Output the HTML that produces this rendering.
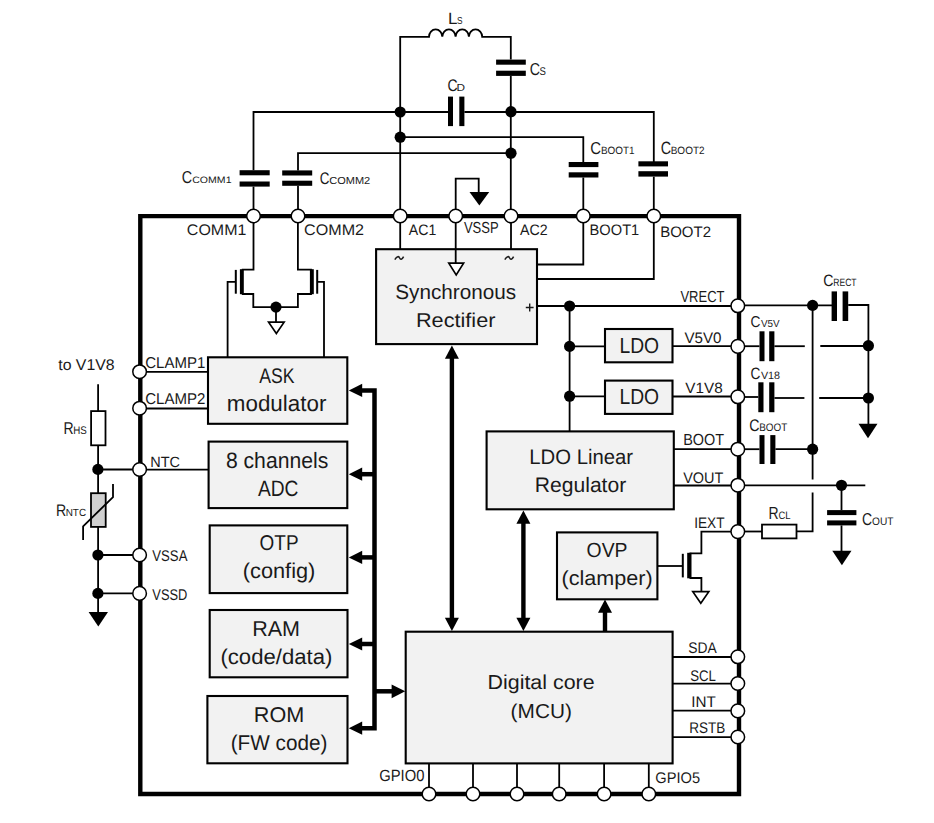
<!DOCTYPE html>
<html><head><meta charset="utf-8"><style>
html,body{margin:0;padding:0;background:#fff;}
body{width:934px;height:823px;overflow:hidden;}
svg{display:block;}
text{font-family:"Liberation Sans",sans-serif;text-rendering:geometricPrecision;}
</style></head><body>
<svg width="934" height="823" viewBox="0 0 934 823">
<rect width="934" height="823" fill="#fff"/>
<path d="M140.3,216.1 L739,216.1 L739,794 L140.3,794 Z" fill="none" stroke="#000" stroke-width="4.4"/>
<path d="M400.2,216 L400.2,36.8 L429,36.8 A6.65,7.4 0 0 1 442.30,36.8 A6.65,7.4 0 0 1 455.60,36.8 A6.65,7.4 0 0 1 468.90,36.8 A6.65,7.4 0 0 1 482.20,36.8 L510.8,36.8 L510.8,59.6" fill="none" stroke="#000" stroke-width="1.8"/>
<rect x="496.1" y="59.6" width="29.70" height="5.10" fill="#000"/>
<rect x="496.1" y="70.7" width="29.70" height="5.20" fill="#000"/>
<path d="M510.8,75.9 L510.8,216" fill="none" stroke="#000" stroke-width="1.8" stroke-linejoin="miter" stroke-linecap="butt"/>
<path d="M253.5,170.2 L253.5,112 L448,112" fill="none" stroke="#000" stroke-width="1.8" stroke-linejoin="miter" stroke-linecap="butt"/>
<rect x="448" y="96.6" width="5.00" height="29.50" fill="#000"/>
<rect x="459.3" y="96.6" width="5.10" height="29.50" fill="#000"/>
<path d="M464.4,112 L653.8,112 L653.8,161.9" fill="none" stroke="#000" stroke-width="1.8" stroke-linejoin="miter" stroke-linecap="butt"/>
<rect x="638.4" y="161.3" width="29.60" height="5.10" fill="#000"/>
<rect x="638.4" y="171.2" width="29.60" height="5.40" fill="#000"/>
<path d="M653.8,176.7 L653.8,216" fill="none" stroke="#000" stroke-width="1.8" stroke-linejoin="miter" stroke-linecap="butt"/>
<rect x="239.6" y="170.2" width="30.10" height="5.10" fill="#000"/>
<rect x="239.6" y="181.5" width="30.10" height="5.10" fill="#000"/>
<path d="M253.5,186.6 L253.5,216" fill="none" stroke="#000" stroke-width="1.8" stroke-linejoin="miter" stroke-linecap="butt"/>
<path d="M400.2,137.2 L583.3,137.2 L583.3,162.5" fill="none" stroke="#000" stroke-width="1.8" stroke-linejoin="miter" stroke-linecap="butt"/>
<rect x="568.7" y="162" width="29.70" height="5.10" fill="#000"/>
<rect x="568.7" y="172.3" width="29.70" height="5.20" fill="#000"/>
<path d="M583.3,177.5 L583.3,216" fill="none" stroke="#000" stroke-width="1.8" stroke-linejoin="miter" stroke-linecap="butt"/>
<path d="M511,153.2 L298,153.2 L298,170.4" fill="none" stroke="#000" stroke-width="1.8" stroke-linejoin="miter" stroke-linecap="butt"/>
<rect x="282.2" y="170.4" width="30.00" height="5.10" fill="#000"/>
<rect x="282.2" y="180.7" width="30.00" height="5.10" fill="#000"/>
<path d="M298,185.8 L298,216" fill="none" stroke="#000" stroke-width="1.8" stroke-linejoin="miter" stroke-linecap="butt"/>
<path d="M455.7,216 L455.7,178.7 L478.7,178.7 L478.7,193" fill="none" stroke="#000" stroke-width="1.8" stroke-linejoin="miter" stroke-linecap="butt"/>
<path d="M469.5,192 L489.2,192 L479.35,205.4 Z" fill="#000"/>
<path d="M253.5,216 L253.5,269.6 L241.8,269.6" fill="none" stroke="#000" stroke-width="1.8" stroke-linejoin="miter" stroke-linecap="butt"/>
<rect x="239.9" y="269.2" width="3.90" height="25.00" fill="#000"/>
<path d="M241.8,294 L253.3,294 L253.3,307.1 L297.9,307.1 L297.9,294 L311.9,294" fill="none" stroke="#000" stroke-width="1.8" stroke-linejoin="miter" stroke-linecap="butt"/>
<rect x="309.9" y="269.2" width="3.90" height="25.00" fill="#000"/>
<path d="M311.9,269.6 L297.9,269.6 L297.9,216" fill="none" stroke="#000" stroke-width="1.8" stroke-linejoin="miter" stroke-linecap="butt"/>
<rect x="234.8" y="269.9" width="2.00" height="23.80" fill="#000"/>
<rect x="316.2" y="269.9" width="2.00" height="23.80" fill="#000"/>
<path d="M235.8,281.8 L227.6,281.8 L227.6,357.3" fill="none" stroke="#000" stroke-width="1.8" stroke-linejoin="miter" stroke-linecap="butt"/>
<path d="M317.2,281.8 L324,281.8 L324,357.3" fill="none" stroke="#000" stroke-width="1.8" stroke-linejoin="miter" stroke-linecap="butt"/>
<path d="M276,307 L276,322" fill="none" stroke="#000" stroke-width="1.8" stroke-linejoin="miter" stroke-linecap="butt"/>
<path d="M268.6,322.2 L284.1,322.2 L276.35,333.4 Z" fill="#fff" stroke="#000" stroke-width="1.7" stroke-linejoin="miter"/>
<path d="M400.2,216 L400.2,249.2" fill="none" stroke="#000" stroke-width="1.8" stroke-linejoin="miter" stroke-linecap="butt"/>
<path d="M511,216 L511,249.2" fill="none" stroke="#000" stroke-width="1.8" stroke-linejoin="miter" stroke-linecap="butt"/>
<path d="M583.3,216 L583.3,264.5 L537,264.5" fill="none" stroke="#000" stroke-width="1.8" stroke-linejoin="miter" stroke-linecap="butt"/>
<path d="M653.8,216 L653.8,279 L537,279" fill="none" stroke="#000" stroke-width="1.8" stroke-linejoin="miter" stroke-linecap="butt"/>
<rect x="376.1" y="249.2" width="160.90" height="94.90" fill="#f2f2f2" stroke="#000" stroke-width="2.1"/>
<path d="M455.7,216 L455.7,263" fill="none" stroke="#000" stroke-width="1.8" stroke-linejoin="miter" stroke-linecap="butt"/>
<path d="M448.8,263.2 L463.6,263.2 L456.20000000000005,275 Z" fill="#fff" stroke="#000" stroke-width="1.7" stroke-linejoin="miter"/>
<path d="M537,306 L739,306" fill="none" stroke="#000" stroke-width="1.8" stroke-linejoin="miter" stroke-linecap="butt"/>
<path d="M569.6,306 L569.6,431.4" fill="none" stroke="#000" stroke-width="1.8" stroke-linejoin="miter" stroke-linecap="butt"/>
<path d="M569.6,346.4 L605,346.4" fill="none" stroke="#000" stroke-width="1.8" stroke-linejoin="miter" stroke-linecap="butt"/>
<path d="M672.5,346.2 L739,346.2" fill="none" stroke="#000" stroke-width="1.8" stroke-linejoin="miter" stroke-linecap="butt"/>
<path d="M569.6,396.3 L605,396.3" fill="none" stroke="#000" stroke-width="1.8" stroke-linejoin="miter" stroke-linecap="butt"/>
<path d="M672.5,396.5 L739,396.5" fill="none" stroke="#000" stroke-width="1.8" stroke-linejoin="miter" stroke-linecap="butt"/>
<rect x="605" y="329" width="67.50" height="33.30" fill="#f2f2f2" stroke="#000" stroke-width="2.1"/>
<rect x="605" y="380.6" width="67.50" height="33.30" fill="#f2f2f2" stroke="#000" stroke-width="2.1"/>
<rect x="486.6" y="431.4" width="187.20" height="77.90" fill="#f2f2f2" stroke="#000" stroke-width="2.1"/>
<path d="M673.8,449.2 L739,449.2" fill="none" stroke="#000" stroke-width="1.8" stroke-linejoin="miter" stroke-linecap="butt"/>
<path d="M673.8,485.5 L739,485.5" fill="none" stroke="#000" stroke-width="1.8" stroke-linejoin="miter" stroke-linecap="butt"/>
<rect x="557" y="532.4" width="100.40" height="66.90" fill="#f2f2f2" stroke="#000" stroke-width="2.1"/>
<path d="M657.4,566 L682,566" fill="none" stroke="#000" stroke-width="1.8" stroke-linejoin="miter" stroke-linecap="butt"/>
<rect x="681.8" y="553.8" width="2.00" height="23.60" fill="#000"/>
<rect x="687.2" y="552.8" width="4.30" height="25.50" fill="#000"/>
<path d="M689.5,553.4 L701.4,553.4 L701.4,531.7 L739,531.7" fill="none" stroke="#000" stroke-width="1.8" stroke-linejoin="miter" stroke-linecap="butt"/>
<path d="M689.5,578 L701.4,578 L701.4,591.5" fill="none" stroke="#000" stroke-width="1.8" stroke-linejoin="miter" stroke-linecap="butt"/>
<path d="M692.8,591.7 L708.8,591.7 L700.8,603.3 Z" fill="#fff" stroke="#000" stroke-width="1.7" stroke-linejoin="miter"/>
<rect x="208" y="357.3" width="139.30" height="66.50" fill="#f2f2f2" stroke="#000" stroke-width="2.1"/>
<rect x="208.6" y="441.6" width="138.70" height="66.50" fill="#f2f2f2" stroke="#000" stroke-width="2.1"/>
<rect x="209.7" y="525.4" width="137.60" height="67.70" fill="#f2f2f2" stroke="#000" stroke-width="2.1"/>
<rect x="209.7" y="610" width="137.80" height="67.30" fill="#f2f2f2" stroke="#000" stroke-width="2.1"/>
<rect x="207.4" y="696" width="140.10" height="67.30" fill="#f2f2f2" stroke="#000" stroke-width="2.1"/>
<path d="M140,371.8 L208,371.8" fill="none" stroke="#000" stroke-width="1.8" stroke-linejoin="miter" stroke-linecap="butt"/>
<path d="M140,408.5 L208,408.5" fill="none" stroke="#000" stroke-width="1.8" stroke-linejoin="miter" stroke-linecap="butt"/>
<path d="M140,469.7 L208.6,469.7" fill="none" stroke="#000" stroke-width="1.8" stroke-linejoin="miter" stroke-linecap="butt"/>
<path d="M361.6,390.4 L374.5,390.4 L374.5,728.2 L361.6,728.2" fill="none" stroke="#000" stroke-width="4.5"/>
<path d="M361.6,474.2 L374.5,474.2" fill="none" stroke="#000" stroke-width="4.5" stroke-linejoin="miter" stroke-linecap="butt"/>
<path d="M361.6,557.4 L374.5,557.4" fill="none" stroke="#000" stroke-width="4.5" stroke-linejoin="miter" stroke-linecap="butt"/>
<path d="M361.6,644 L374.5,644" fill="none" stroke="#000" stroke-width="4.5" stroke-linejoin="miter" stroke-linecap="butt"/>
<path d="M348.8,390.4 L362.2,383.79999999999995 L362.2,397.0 Z" fill="#000"/>
<path d="M348.8,474.2 L362.2,467.59999999999997 L362.2,480.8 Z" fill="#000"/>
<path d="M348.8,557.4 L362.2,550.8 L362.2,564.0 Z" fill="#000"/>
<path d="M348.8,644 L362.2,637.4 L362.2,650.6 Z" fill="#000"/>
<path d="M348.8,728.2 L362.2,721.6 L362.2,734.8000000000001 Z" fill="#000"/>
<path d="M374.5,691.3 L392,691.3" fill="none" stroke="#000" stroke-width="4.5" stroke-linejoin="miter" stroke-linecap="butt"/>
<path d="M405.2,691.3 L391.6,684.4 L391.6,698.2 Z" fill="#000"/>
<rect x="405.7" y="631.7" width="266.90" height="131.70" fill="#f2f2f2" stroke="#000" stroke-width="2.1"/>
<path d="M672.6,657 L739,657" fill="none" stroke="#000" stroke-width="1.8" stroke-linejoin="miter" stroke-linecap="butt"/>
<path d="M672.6,683.6 L739,683.6" fill="none" stroke="#000" stroke-width="1.8" stroke-linejoin="miter" stroke-linecap="butt"/>
<path d="M672.6,710.7 L739,710.7" fill="none" stroke="#000" stroke-width="1.8" stroke-linejoin="miter" stroke-linecap="butt"/>
<path d="M672.6,737.1 L739,737.1" fill="none" stroke="#000" stroke-width="1.8" stroke-linejoin="miter" stroke-linecap="butt"/>
<path d="M429,763 L429,794" fill="none" stroke="#000" stroke-width="1.8" stroke-linejoin="miter" stroke-linecap="butt"/>
<path d="M473,763 L473,794" fill="none" stroke="#000" stroke-width="1.8" stroke-linejoin="miter" stroke-linecap="butt"/>
<path d="M517,763 L517,794" fill="none" stroke="#000" stroke-width="1.8" stroke-linejoin="miter" stroke-linecap="butt"/>
<path d="M559.2,763 L559.2,794" fill="none" stroke="#000" stroke-width="1.8" stroke-linejoin="miter" stroke-linecap="butt"/>
<path d="M604.1,763 L604.1,794" fill="none" stroke="#000" stroke-width="1.8" stroke-linejoin="miter" stroke-linecap="butt"/>
<path d="M648.8,763 L648.8,794" fill="none" stroke="#000" stroke-width="1.8" stroke-linejoin="miter" stroke-linecap="butt"/>
<path d="M451.9,358 L451.9,619" fill="none" stroke="#000" stroke-width="4.4" stroke-linejoin="miter" stroke-linecap="butt"/>
<path d="M451.9,345.5 L444.9,358.7 L458.9,358.7 Z" fill="#000"/>
<path d="M451.9,630.9 L444.9,617.6999999999999 L458.9,617.6999999999999 Z" fill="#000"/>
<path d="M523.4,523 L523.4,619" fill="none" stroke="#000" stroke-width="4.4" stroke-linejoin="miter" stroke-linecap="butt"/>
<path d="M523.4,510.6 L516.4,523.8000000000001 L530.4,523.8000000000001 Z" fill="#000"/>
<path d="M523.4,630.9 L516.4,617.6999999999999 L530.4,617.6999999999999 Z" fill="#000"/>
<path d="M605,612 L605,631.7" fill="none" stroke="#000" stroke-width="4.4" stroke-linejoin="miter" stroke-linecap="butt"/>
<path d="M605,599.5 L598,612.7 L612,612.7 Z" fill="#000"/>
<path d="M739,305.4 L832,305.4" fill="none" stroke="#000" stroke-width="1.8" stroke-linejoin="miter" stroke-linecap="butt"/>
<rect x="831.6" y="291.4" width="5.40" height="29.60" fill="#000"/>
<rect x="842.6" y="291.4" width="5.60" height="29.60" fill="#000"/>
<path d="M848.2,305 L868.4,305 L868.4,424.5" fill="none" stroke="#000" stroke-width="1.8" stroke-linejoin="miter" stroke-linecap="butt"/>
<path d="M812.6,305.4 L812.6,479.5" fill="none" stroke="#000" stroke-width="1.8" stroke-linejoin="miter" stroke-linecap="butt"/>
<path d="M812.6,492.5 L812.6,531.3 L796.5,531.3" fill="none" stroke="#000" stroke-width="1.8" stroke-linejoin="miter" stroke-linecap="butt"/>
<path d="M739,346.2 L759.5,346.2" fill="none" stroke="#000" stroke-width="1.8" stroke-linejoin="miter" stroke-linecap="butt"/>
<rect x="759.5" y="331.3" width="5.00" height="29.90" fill="#000"/>
<rect x="769.2" y="331.3" width="5.20" height="29.90" fill="#000"/>
<path d="M774.4,346.2 L804.8,346.2" fill="none" stroke="#000" stroke-width="1.8" stroke-linejoin="miter" stroke-linecap="butt"/>
<path d="M820.3,346 L868.4,346" fill="none" stroke="#000" stroke-width="1.8" stroke-linejoin="miter" stroke-linecap="butt"/>
<path d="M739,397 L758.3,397" fill="none" stroke="#000" stroke-width="1.8" stroke-linejoin="miter" stroke-linecap="butt"/>
<rect x="758.3" y="382.3" width="5.20" height="29.90" fill="#000"/>
<rect x="769.2" y="382.3" width="5.20" height="29.90" fill="#000"/>
<path d="M774.4,398 L804.4,398" fill="none" stroke="#000" stroke-width="1.8" stroke-linejoin="miter" stroke-linecap="butt"/>
<path d="M819.2,398 L868.4,398" fill="none" stroke="#000" stroke-width="1.8" stroke-linejoin="miter" stroke-linecap="butt"/>
<path d="M858.5,423.8 L877.5,423.8 L868.0,438.2 Z" fill="#000"/>
<path d="M739,449.2 L759.5,449.2" fill="none" stroke="#000" stroke-width="1.8" stroke-linejoin="miter" stroke-linecap="butt"/>
<rect x="759.5" y="435.1" width="5.00" height="28.90" fill="#000"/>
<rect x="770.3" y="435.1" width="5.10" height="28.90" fill="#000"/>
<path d="M775.4,449.2 L812.6,449.2" fill="none" stroke="#000" stroke-width="1.8" stroke-linejoin="miter" stroke-linecap="butt"/>
<path d="M739,485.4 L865.3,485.4" fill="none" stroke="#000" stroke-width="1.8" stroke-linejoin="miter" stroke-linecap="butt"/>
<path d="M841.5,485 L841.5,510.1" fill="none" stroke="#000" stroke-width="1.8" stroke-linejoin="miter" stroke-linecap="butt"/>
<rect x="827.1" y="510.1" width="29.30" height="5.00" fill="#000"/>
<rect x="827.1" y="520.4" width="29.30" height="5.00" fill="#000"/>
<path d="M841.5,525.4 L841.5,551.5" fill="none" stroke="#000" stroke-width="1.8" stroke-linejoin="miter" stroke-linecap="butt"/>
<path d="M832.3,550.8 L851.5,550.8 L841.9,565.3 Z" fill="#000"/>
<path d="M739,531.5 L762,531.5" fill="none" stroke="#000" stroke-width="1.8" stroke-linejoin="miter" stroke-linecap="butt"/>
<rect x="762" y="524.6" width="34.50" height="13.80" fill="#fff" stroke="#000" stroke-width="1.8"/>
<path d="M98.1,384.3 L98.1,411.1" fill="none" stroke="#000" stroke-width="1.8" stroke-linejoin="miter" stroke-linecap="butt"/>
<rect x="91.1" y="411.1" width="14.40" height="34.20" fill="#fff" stroke="#000" stroke-width="1.8"/>
<path d="M98.1,445.3 L98.1,493.2" fill="none" stroke="#000" stroke-width="1.8" stroke-linejoin="miter" stroke-linecap="butt"/>
<rect x="91" y="493.2" width="14.70" height="33.70" fill="#d0d0d0" stroke="#000" stroke-width="1.8"/>
<path d="M98.1,526.9 L98.1,612.5" fill="none" stroke="#000" stroke-width="1.8" stroke-linejoin="miter" stroke-linecap="butt"/>
<path d="M88.6,611.9 L108,611.9 L98.3,626.5 Z" fill="#000"/>
<path d="M83.1,540 L83.1,526.3 L113,497.1 L113,483.9" fill="none" stroke="#000" stroke-width="1.8" stroke-linejoin="miter" stroke-linecap="butt"/>
<path d="M97.9,469.5 L140,469.5" fill="none" stroke="#000" stroke-width="1.8" stroke-linejoin="miter" stroke-linecap="butt"/>
<path d="M97.9,555 L140,555" fill="none" stroke="#000" stroke-width="1.8" stroke-linejoin="miter" stroke-linecap="butt"/>
<path d="M97.9,593.4 L140,593.4" fill="none" stroke="#000" stroke-width="1.8" stroke-linejoin="miter" stroke-linecap="butt"/>
<circle cx="253.5" cy="216" r="6.8" fill="#fff" stroke="#000" stroke-width="1.5"/>
<circle cx="298" cy="216" r="6.8" fill="#fff" stroke="#000" stroke-width="1.5"/>
<circle cx="400.2" cy="216" r="6.8" fill="#fff" stroke="#000" stroke-width="1.5"/>
<circle cx="455.7" cy="216" r="6.8" fill="#fff" stroke="#000" stroke-width="1.5"/>
<circle cx="511" cy="216" r="6.8" fill="#fff" stroke="#000" stroke-width="1.5"/>
<circle cx="583.3" cy="216" r="6.8" fill="#fff" stroke="#000" stroke-width="1.5"/>
<circle cx="653.8" cy="216" r="6.8" fill="#fff" stroke="#000" stroke-width="1.5"/>
<circle cx="139.6" cy="371.7" r="6.8" fill="#fff" stroke="#000" stroke-width="1.5"/>
<circle cx="139.6" cy="408.2" r="6.8" fill="#fff" stroke="#000" stroke-width="1.5"/>
<circle cx="139.6" cy="469.5" r="6.8" fill="#fff" stroke="#000" stroke-width="1.5"/>
<circle cx="139.6" cy="555" r="6.8" fill="#fff" stroke="#000" stroke-width="1.5"/>
<circle cx="139.6" cy="593.4" r="6.8" fill="#fff" stroke="#000" stroke-width="1.5"/>
<circle cx="737.8" cy="305.8" r="6.8" fill="#fff" stroke="#000" stroke-width="1.5"/>
<circle cx="737.8" cy="346.4" r="6.8" fill="#fff" stroke="#000" stroke-width="1.5"/>
<circle cx="737.8" cy="396.8" r="6.8" fill="#fff" stroke="#000" stroke-width="1.5"/>
<circle cx="737.8" cy="449.2" r="6.8" fill="#fff" stroke="#000" stroke-width="1.5"/>
<circle cx="737.8" cy="485.2" r="6.8" fill="#fff" stroke="#000" stroke-width="1.5"/>
<circle cx="737.8" cy="531.6" r="6.8" fill="#fff" stroke="#000" stroke-width="1.5"/>
<circle cx="737.8" cy="656.8" r="6.8" fill="#fff" stroke="#000" stroke-width="1.5"/>
<circle cx="737.8" cy="683.5" r="6.8" fill="#fff" stroke="#000" stroke-width="1.5"/>
<circle cx="737.8" cy="710.9" r="6.8" fill="#fff" stroke="#000" stroke-width="1.5"/>
<circle cx="737.8" cy="737.0" r="6.8" fill="#fff" stroke="#000" stroke-width="1.5"/>
<circle cx="429" cy="794" r="6.8" fill="#fff" stroke="#000" stroke-width="1.5"/>
<circle cx="473" cy="794" r="6.8" fill="#fff" stroke="#000" stroke-width="1.5"/>
<circle cx="517" cy="794" r="6.8" fill="#fff" stroke="#000" stroke-width="1.5"/>
<circle cx="559.2" cy="794" r="6.8" fill="#fff" stroke="#000" stroke-width="1.5"/>
<circle cx="604.1" cy="794" r="6.8" fill="#fff" stroke="#000" stroke-width="1.5"/>
<circle cx="648.8" cy="794" r="6.8" fill="#fff" stroke="#000" stroke-width="1.5"/>
<circle cx="400.2" cy="112" r="5.6" fill="#000"/>
<circle cx="511" cy="111.7" r="5.6" fill="#000"/>
<circle cx="400.2" cy="137.2" r="5.6" fill="#000"/>
<circle cx="511" cy="153.2" r="5.6" fill="#000"/>
<circle cx="276" cy="307.1" r="5.6" fill="#000"/>
<circle cx="569.6" cy="306" r="5.6" fill="#000"/>
<circle cx="569.6" cy="346.4" r="5.6" fill="#000"/>
<circle cx="569.6" cy="396.2" r="5.6" fill="#000"/>
<circle cx="812.6" cy="305.4" r="5.6" fill="#000"/>
<circle cx="868.4" cy="345.7" r="5.6" fill="#000"/>
<circle cx="868.4" cy="398" r="5.6" fill="#000"/>
<circle cx="812.6" cy="449.2" r="5.6" fill="#000"/>
<circle cx="841.5" cy="485.3" r="5.6" fill="#000"/>
<circle cx="97.9" cy="469.4" r="5.6" fill="#000"/>
<circle cx="97.9" cy="555" r="5.6" fill="#000"/>
<circle cx="97.9" cy="593.4" r="5.6" fill="#000"/>
<text x="186.89" y="234.50" font-size="15.41" textLength="59.49" lengthAdjust="spacingAndGlyphs" fill="#1a1a1a">COMM1</text>
<text x="304.08" y="235.00" font-size="15.41" textLength="59.93" lengthAdjust="spacingAndGlyphs" fill="#1a1a1a">COMM2</text>
<text x="408.87" y="234.50" font-size="15.12" textLength="27.42" lengthAdjust="spacingAndGlyphs" fill="#1a1a1a">AC1</text>
<text x="463.94" y="233.20" font-size="15.99" textLength="34.74" lengthAdjust="spacingAndGlyphs" fill="#1a1a1a">VSSP</text>
<text x="519.97" y="235.20" font-size="15.12" textLength="27.64" lengthAdjust="spacingAndGlyphs" fill="#1a1a1a">AC2</text>
<text x="589.60" y="235.20" font-size="15.12" textLength="49.62" lengthAdjust="spacingAndGlyphs" fill="#1a1a1a">BOOT1</text>
<text x="660.17" y="237.40" font-size="15.12" textLength="50.89" lengthAdjust="spacingAndGlyphs" fill="#1a1a1a">BOOT2</text>
<text x="145.24" y="367.50" font-size="15.70" textLength="60.10" lengthAdjust="spacingAndGlyphs" fill="#1a1a1a">CLAMP1</text>
<text x="145.24" y="404.20" font-size="15.70" textLength="60.12" lengthAdjust="spacingAndGlyphs" fill="#1a1a1a">CLAMP2</text>
<text x="150.31" y="467.00" font-size="14.83" textLength="29.74" lengthAdjust="spacingAndGlyphs" fill="#1a1a1a">NTC</text>
<text x="152.34" y="561.40" font-size="15.55" textLength="35.08" lengthAdjust="spacingAndGlyphs" fill="#1a1a1a">VSSA</text>
<text x="152.34" y="599.70" font-size="15.55" textLength="35.07" lengthAdjust="spacingAndGlyphs" fill="#1a1a1a">VSSD</text>
<text x="58.26" y="370.10" font-size="15.55" textLength="56.33" lengthAdjust="spacingAndGlyphs" fill="#1a1a1a">to V1V8</text>
<text x="680.44" y="302.20" font-size="15.99" textLength="44.06" lengthAdjust="spacingAndGlyphs" fill="#1a1a1a">VRECT</text>
<text x="684.43" y="343.00" font-size="15.26" textLength="37.06" lengthAdjust="spacingAndGlyphs" fill="#1a1a1a">V5V0</text>
<text x="685.33" y="392.60" font-size="14.97" textLength="37.33" lengthAdjust="spacingAndGlyphs" fill="#1a1a1a">V1V8</text>
<text x="683.22" y="444.80" font-size="15.99" textLength="40.92" lengthAdjust="spacingAndGlyphs" fill="#1a1a1a">BOOT</text>
<text x="683.14" y="482.50" font-size="15.26" textLength="40.20" lengthAdjust="spacingAndGlyphs" fill="#1a1a1a">VOUT</text>
<text x="694.14" y="527.90" font-size="15.26" textLength="30.37" lengthAdjust="spacingAndGlyphs" fill="#1a1a1a">IEXT</text>
<text x="688.27" y="653.00" font-size="15.41" textLength="28.46" lengthAdjust="spacingAndGlyphs" fill="#1a1a1a">SDA</text>
<text x="690.20" y="681.20" font-size="15.41" textLength="25.74" lengthAdjust="spacingAndGlyphs" fill="#1a1a1a">SCL</text>
<text x="691.29" y="707.20" font-size="15.41" textLength="24.56" lengthAdjust="spacingAndGlyphs" fill="#1a1a1a">INT</text>
<text x="689.19" y="733.10" font-size="15.41" textLength="36.02" lengthAdjust="spacingAndGlyphs" fill="#1a1a1a">RSTB</text>
<text x="379.16" y="781.40" font-size="16.28" textLength="45.22" lengthAdjust="spacingAndGlyphs" fill="#1a1a1a">GPIO0</text>
<text x="655.36" y="783.30" font-size="15.41" textLength="44.75" lengthAdjust="spacingAndGlyphs" fill="#1a1a1a">GPIO5</text>
<text x="181.67" y="183.30" font-size="17.30" textLength="10.38" lengthAdjust="spacingAndGlyphs" fill="#1a1a1a">C</text>
<text x="192.26" y="183.30" font-size="9.30" textLength="39.25" lengthAdjust="spacingAndGlyphs" fill="#1a1a1a">COMM1</text>
<text x="319.82" y="184.00" font-size="16.72" textLength="9.69" lengthAdjust="spacingAndGlyphs" fill="#1a1a1a">C</text>
<text x="329.24" y="184.00" font-size="10.17" textLength="41.01" lengthAdjust="spacingAndGlyphs" fill="#1a1a1a">COMM2</text>
<text x="448.10" y="23.70" font-size="16.28" textLength="9.46" lengthAdjust="spacingAndGlyphs" fill="#1a1a1a">L</text>
<text x="457.12" y="23.70" font-size="10.17" textLength="5.56" lengthAdjust="spacingAndGlyphs" fill="#1a1a1a">S</text>
<text x="447.39" y="90.50" font-size="16.72" textLength="10.15" lengthAdjust="spacingAndGlyphs" fill="#1a1a1a">C</text>
<text x="456.53" y="90.50" font-size="10.17" textLength="8.54" lengthAdjust="spacingAndGlyphs" fill="#1a1a1a">D</text>
<text x="529.78" y="75.20" font-size="17.30" textLength="10.26" lengthAdjust="spacingAndGlyphs" fill="#1a1a1a">C</text>
<text x="539.57" y="75.20" font-size="11.19" textLength="6.37" lengthAdjust="spacingAndGlyphs" fill="#1a1a1a">S</text>
<text x="590.24" y="153.80" font-size="17.30" textLength="10.83" lengthAdjust="spacingAndGlyphs" fill="#1a1a1a">C</text>
<text x="600.89" y="153.80" font-size="10.61" textLength="33.60" lengthAdjust="spacingAndGlyphs" fill="#1a1a1a">BOOT1</text>
<text x="660.67" y="154.10" font-size="17.88" textLength="10.38" lengthAdjust="spacingAndGlyphs" fill="#1a1a1a">C</text>
<text x="670.68" y="154.10" font-size="10.61" textLength="33.92" lengthAdjust="spacingAndGlyphs" fill="#1a1a1a">BOOT2</text>
<text x="823.28" y="285.80" font-size="16.42" textLength="10.26" lengthAdjust="spacingAndGlyphs" fill="#1a1a1a">C</text>
<text x="833.30" y="285.80" font-size="10.61" textLength="23.30" lengthAdjust="spacingAndGlyphs" fill="#1a1a1a">RECT</text>
<text x="750.60" y="327.10" font-size="15.84" textLength="9.92" lengthAdjust="spacingAndGlyphs" fill="#1a1a1a">C</text>
<text x="760.96" y="327.10" font-size="10.32" textLength="18.69" lengthAdjust="spacingAndGlyphs" fill="#1a1a1a">V5V</text>
<text x="750.60" y="378.80" font-size="16.57" textLength="9.92" lengthAdjust="spacingAndGlyphs" fill="#1a1a1a">C</text>
<text x="760.95" y="378.80" font-size="10.61" textLength="19.11" lengthAdjust="spacingAndGlyphs" fill="#1a1a1a">V18</text>
<text x="749.28" y="430.50" font-size="16.72" textLength="10.26" lengthAdjust="spacingAndGlyphs" fill="#1a1a1a">C</text>
<text x="759.19" y="430.50" font-size="10.90" textLength="28.04" lengthAdjust="spacingAndGlyphs" fill="#1a1a1a">BOOT</text>
<text x="768.55" y="519.40" font-size="17.44" textLength="10.10" lengthAdjust="spacingAndGlyphs" fill="#1a1a1a">R</text>
<text x="778.52" y="519.40" font-size="10.76" textLength="12.09" lengthAdjust="spacingAndGlyphs" fill="#1a1a1a">CL</text>
<text x="861.89" y="525.00" font-size="17.15" textLength="10.15" lengthAdjust="spacingAndGlyphs" fill="#1a1a1a">C</text>
<text x="872.02" y="525.00" font-size="10.90" textLength="21.41" lengthAdjust="spacingAndGlyphs" fill="#1a1a1a">OUT</text>
<text x="63.55" y="433.50" font-size="17.01" textLength="10.10" lengthAdjust="spacingAndGlyphs" fill="#1a1a1a">R</text>
<text x="73.20" y="433.50" font-size="11.05" textLength="13.55" lengthAdjust="spacingAndGlyphs" fill="#1a1a1a">HS</text>
<text x="55.94" y="516.10" font-size="16.72" textLength="10.22" lengthAdjust="spacingAndGlyphs" fill="#1a1a1a">R</text>
<text x="65.69" y="516.10" font-size="10.32" textLength="20.39" lengthAdjust="spacingAndGlyphs" fill="#1a1a1a">NTC</text>
<text x="395.26" y="299.00" font-size="20.64" textLength="120.89" lengthAdjust="spacingAndGlyphs" fill="#1a1a1a">Synchronous</text>
<text x="415.92" y="327.00" font-size="19.91" textLength="79.54" lengthAdjust="spacingAndGlyphs" fill="#1a1a1a">Rectifier</text>
<text x="259.17" y="383.40" font-size="21.08" textLength="35.23" lengthAdjust="spacingAndGlyphs" fill="#1a1a1a">ASK</text>
<text x="226.81" y="410.80" font-size="22.53" textLength="99.56" lengthAdjust="spacingAndGlyphs" fill="#1a1a1a">modulator</text>
<text x="225.88" y="468.00" font-size="22.24" textLength="102.38" lengthAdjust="spacingAndGlyphs" fill="#1a1a1a">8 channels</text>
<text x="257.96" y="496.10" font-size="22.24" textLength="40.47" lengthAdjust="spacingAndGlyphs" fill="#1a1a1a">ADC</text>
<text x="259.60" y="550.40" font-size="21.51" textLength="39.00" lengthAdjust="spacingAndGlyphs" fill="#1a1a1a">OTP</text>
<text x="242.75" y="578.00" font-size="21.51" textLength="72.60" lengthAdjust="spacingAndGlyphs" fill="#1a1a1a">(config)</text>
<text x="252.23" y="635.70" font-size="21.51" textLength="47.83" lengthAdjust="spacingAndGlyphs" fill="#1a1a1a">RAM</text>
<text x="220.43" y="663.50" font-size="21.51" textLength="111.94" lengthAdjust="spacingAndGlyphs" fill="#1a1a1a">(code/data)</text>
<text x="253.83" y="721.60" font-size="21.37" textLength="50.45" lengthAdjust="spacingAndGlyphs" fill="#1a1a1a">ROM</text>
<text x="230.71" y="749.50" font-size="21.37" textLength="96.77" lengthAdjust="spacingAndGlyphs" fill="#1a1a1a">(FW code)</text>
<text x="619.42" y="352.70" font-size="21.80" textLength="39.71" lengthAdjust="spacingAndGlyphs" fill="#1a1a1a">LDO</text>
<text x="619.42" y="404.30" font-size="21.80" textLength="39.71" lengthAdjust="spacingAndGlyphs" fill="#1a1a1a">LDO</text>
<text x="529.23" y="464.40" font-size="20.93" textLength="103.90" lengthAdjust="spacingAndGlyphs" fill="#1a1a1a">LDO Linear</text>
<text x="534.77" y="492.00" font-size="20.93" textLength="91.48" lengthAdjust="spacingAndGlyphs" fill="#1a1a1a">Regulator</text>
<text x="586.58" y="557.00" font-size="20.49" textLength="40.94" lengthAdjust="spacingAndGlyphs" fill="#1a1a1a">OVP</text>
<text x="561.56" y="585.00" font-size="20.49" textLength="91.18" lengthAdjust="spacingAndGlyphs" fill="#1a1a1a">(clamper)</text>
<text x="487.54" y="689.30" font-size="20.20" textLength="107.11" lengthAdjust="spacingAndGlyphs" fill="#1a1a1a">Digital core</text>
<text x="510.61" y="717.50" font-size="20.20" textLength="61.28" lengthAdjust="spacingAndGlyphs" fill="#1a1a1a">(MCU)</text>
<path d="M394.8,259.6 C397,255.8 399,256.2 399.5,257.8 C400.3,259.8 402,260 403.6,256.6" fill="none" stroke="#1a1a1a" stroke-width="1.5"/>
<path d="M504.8,259.6 C507,255.8 509,256.2 509.5,257.8 C510.3,259.8 512,260 513.6,256.6" fill="none" stroke="#1a1a1a" stroke-width="1.5"/>
<path d="M525.8,307.5 L533.6,307.5 M529.7,303.4 L529.7,311.6" fill="none" stroke="#1a1a1a" stroke-width="1.4"/>
</svg>
</body></html>
